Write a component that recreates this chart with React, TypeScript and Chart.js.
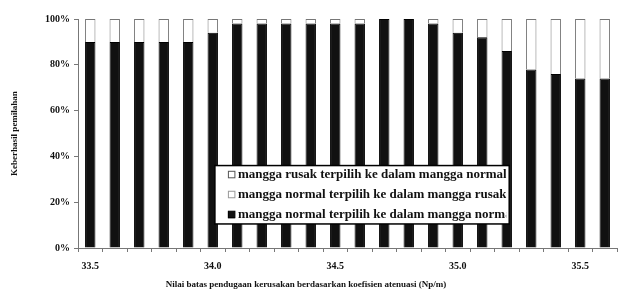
import React, { useEffect, useRef } from "react";
import { Chart, registerables } from "chart.js";

Chart.register(...registerables);

const categories = [
  "33.5", "33.6", "33.7", "33.8", "33.9", "34.0", "34.1", "34.2", "34.3", "34.4", "34.5",
  "34.6", "34.7", "34.8", "34.9", "35.0", "35.1", "35.2", "35.3", "35.4", "35.5", "35.6",
];
const normalToNormal = [90, 90, 90, 90, 90, 94, 98, 98, 98, 98, 98, 98, 100, 100, 98, 94, 92, 86, 78, 76, 74, 74];
const normalToRusak = [10, 10, 10, 10, 10, 6, 2, 2, 2, 2, 2, 2, 0, 0, 2, 6, 8, 14, 22, 24, 26, 26];
const rusakToNormal = [0, 0, 0, 0, 0, 0, 0, 0, 0, 0, 0, 0, 0, 0, 0, 0, 0, 0, 0, 0, 0, 0];
const labelsShown = ["33.5", "34.0", "34.5", "35.0", "35.5"];
const legendLabels = [
  "mangga rusak terpilih ke dalam mangga normal",
  "mangga normal terpilih ke dalam mangga rusak",
  "mangga normal terpilih ke dalam mangga normal",
];
const yTitle = "Keberhasil pemilahan";
const xTitle = "Nilai batas pendugaan kerusakan berdasarkan koefisien atenuasi (Np/m)";

const FONT = "'Liberation Serif', 'Times New Roman', serif";

const customPlugin = {
  id: "custom",
  afterDraw(chart: any) {
    const ctx = chart.ctx;
    const a = chart.chartArea;
    const w = a.right - a.left;
    const h = a.bottom - a.top;
    // legend box
    const lx = a.left + 0.254 * w;
    const rx = a.left + 0.80 * w;
    const ty = a.top + 0.64 * h;
    const by = a.top + 0.895 * h;
    ctx.save();
    ctx.fillStyle = "#fff";
    ctx.fillRect(lx, ty, rx - lx, by - ty);
    ctx.strokeStyle = "#000";
    ctx.lineWidth = 1.5;
    ctx.strokeRect(lx, ty, rx - lx, by - ty);
    ctx.beginPath();
    ctx.rect(lx, ty, rx - lx - 3, by - ty);
    ctx.clip();
    const rowH = (by - ty) / 3;
    const fills = ["#fff", "#fff", "#111"];
    const strokes = ["#555", "#999", "#000"];
    ctx.font = `bold 13px ${FONT}`;
    ctx.textBaseline = "middle";
    legendLabels.forEach((t, i) => {
      const cy = ty + rowH * (i + 0.5) + (i - 1) * 0.5;
      ctx.fillStyle = fills[i];
      ctx.fillRect(lx + 13, cy - 3.5, 7, 7);
      ctx.strokeStyle = strokes[i];
      ctx.lineWidth = 1;
      ctx.strokeRect(lx + 13.5, cy - 3.5, 6.5, 6.5);
      ctx.fillStyle = "#111";
      ctx.fillText(t, lx + 23, cy);
    });
    ctx.restore();
    // axis titles
    ctx.save();
    ctx.fillStyle = "#111";
    ctx.font = `bold 9px ${FONT}`;
    ctx.textAlign = "center";
    ctx.textBaseline = "middle";
    ctx.fillText(xTitle, 306, 285);
    ctx.translate(15, (a.top + a.bottom) / 2);
    ctx.rotate(-Math.PI / 2);
    ctx.fillText(yTitle, 0, 0);
    ctx.restore();
  },
};

export default function App() {
  const ref = useRef<HTMLCanvasElement>(null);
  useEffect(() => {
    document.body.style.margin = "0";
    const chart = new Chart(ref.current!, {
      type: "bar",
      data: {
        labels: categories,
        datasets: [
          {
            label: legendLabels[2],
            data: normalToNormal,
            backgroundColor: "#111",
            borderColor: "#000",
            borderWidth: 1,
            barPercentage: 0.85,
            categoryPercentage: 0.5,
          },
          {
            label: legendLabels[1],
            data: normalToRusak,
            backgroundColor: "#fff",
            borderColor: "#777",
            borderWidth: 1,
            barPercentage: 0.85,
            categoryPercentage: 0.5,
          },
          {
            label: legendLabels[0],
            data: rusakToNormal,
            backgroundColor: "#fff",
            borderColor: "#777",
            borderWidth: 0,
            barPercentage: 0.85,
            categoryPercentage: 0.5,
          },
        ],
      },
      options: {
        responsive: false,
        animation: false,
        layout: { padding: { left: 41, right: 10, top: 19, bottom: 14 } },
        plugins: { legend: { display: false }, tooltip: { enabled: false } },
        scales: {
          x: {
            stacked: true,
            grid: { display: true, drawOnChartArea: false, drawTicks: true, tickLength: 4, color: "#777" },
            border: { color: "#777" },
            ticks: {
              autoSkip: false,
              maxRotation: 0,
              color: "#111",
              font: { family: FONT, size: 10, weight: "bold" },
              padding: 8,
              callback: function (this: any, v: any, i: number) {
                const l = categories[i];
                return labelsShown.includes(l) ? l : "";
              },
            },
          },
          y: {
            stacked: true,
            min: 0,
            max: 100,
            grid: { drawOnChartArea: false, drawTicks: true, tickLength: 4, color: "#777" },
            border: { color: "#777" },
            ticks: {
              stepSize: 20,
              color: "#111",
              font: { family: FONT, size: 10, weight: "bold" },
              padding: 4,
              callback: (v: any) => v + "%",
            },
          },
        },
      },
      plugins: [customPlugin],
    });
    return () => chart.destroy();
  }, []);
  return (
    <div style={{ width: 627, height: 294, background: "#fff" }}>
      <canvas ref={ref} width={627} height={294} />
    </div>
  );
}
